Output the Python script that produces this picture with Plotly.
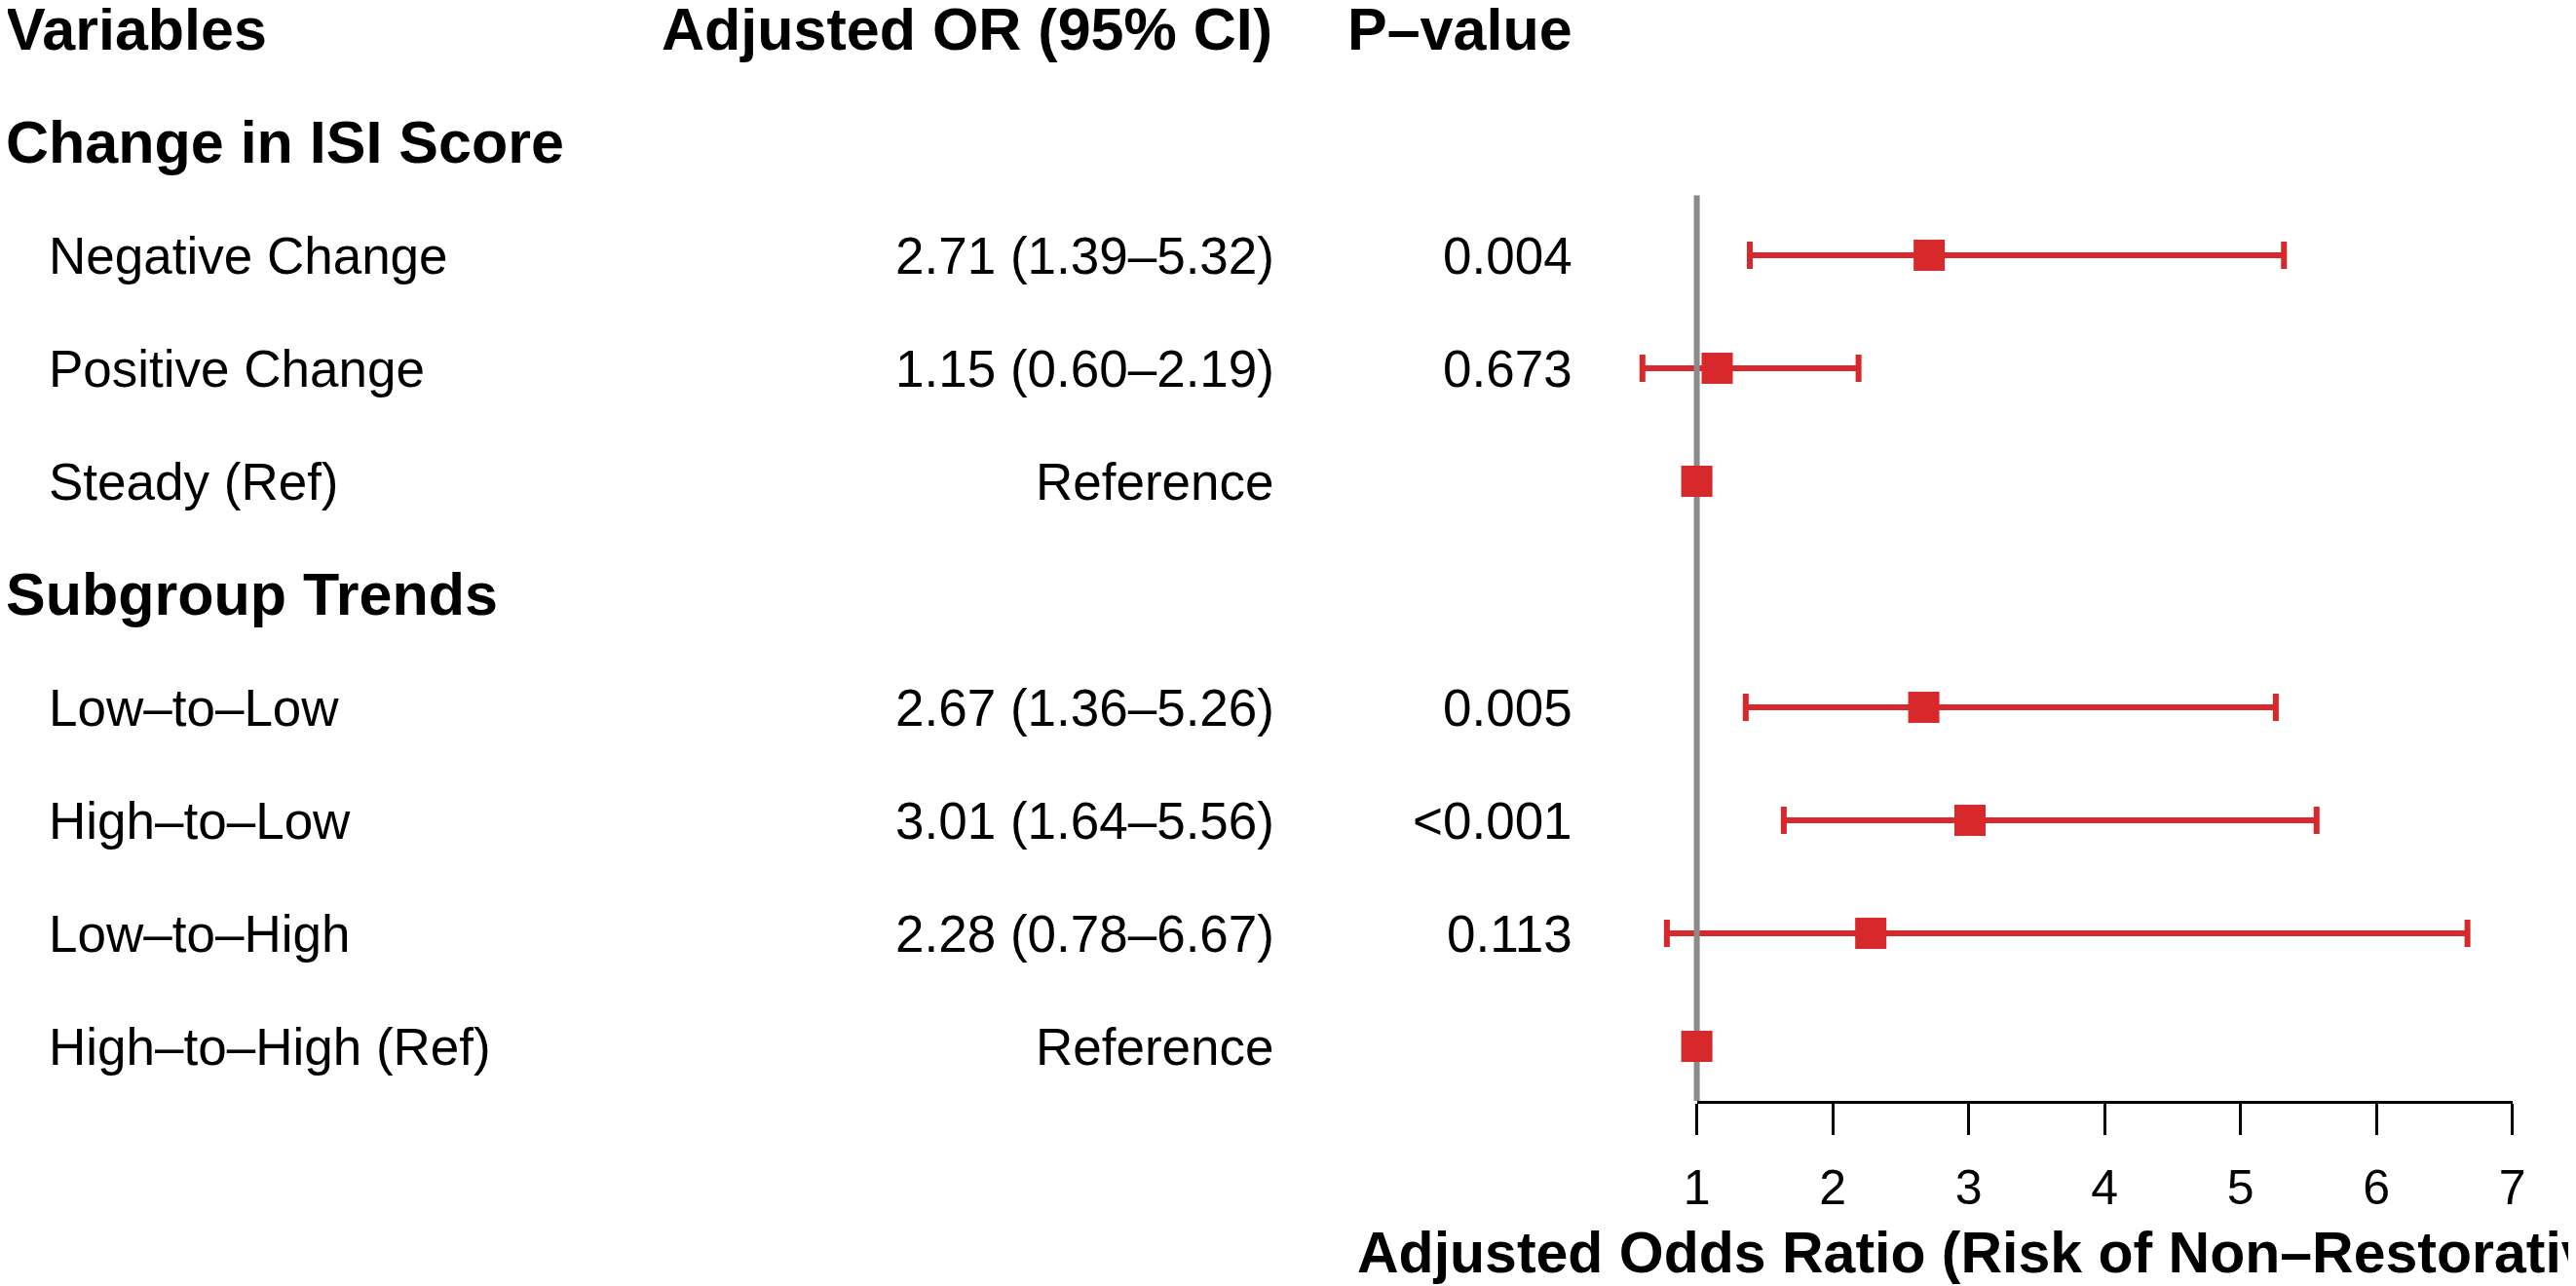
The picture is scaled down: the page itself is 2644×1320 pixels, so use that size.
import plotly.graph_objects as go

# forest plot data
groups = ["Change in ISI Score", "Subgroup Trends"]
labels = ["Negative Change", "Positive Change", "Steady (Ref)",
          "Low–to–Low", "High–to–Low", "Low–to–High", "High–to–High (Ref)"]
group_of = [0, 0, 0, 1, 1, 1, 1]
or_est = [2.71, 1.15, 1.00, 2.67, 3.01, 2.28, 1.00]
ci_low = [1.39, 0.60, None, 1.36, 1.64, 0.78, None]
ci_high = [5.32, 2.19, None, 5.26, 5.56, 6.67, None]
or_text = ["2.71 (1.39–5.32)", "1.15 (0.60–2.19)", "Reference",
           "2.67 (1.36–5.26)", "3.01 (1.64–5.56)", "2.28 (0.78–6.67)", "Reference"]
p_text = ["0.004", "0.673", "", "0.005", "<0.001", "0.113", ""]
headers = ["Variables", "Adjusted OR (95% CI)", "P–value"]
x_ticks = [1, 2, 3, 4, 5, 6, 7]
x_title = "Adjusted Odds Ratio (Risk of Non–Restorative Sleep)"

W, H = 2644, 1320
RED = "#D7282B"
GREY = "#8A8A8A"
FONT = "Liberation Sans"

# row index for every line of the table (0 = column headers)
group_rows = []
item_rows = []
r = 0
last_group = None
for g in group_of:
    if g != last_group:
        r += 1
        group_rows.append(r)
        last_group = g
    r += 1
    item_rows.append(r)

# pixel geometry of the reference; the page shifts the figure 8px down
dy = 8
px_one, px_seven = 1738, 2584
row0_px, row_step, axis_px = 30 - dy, 116, 1130 - dy
unit = (px_seven - px_one) / (x_ticks[-1] - x_ticks[0])
x_lo = x_ticks[0] - px_one / unit
x_hi = x_ticks[0] + (W - px_one) / unit
y_bottom = (axis_px - row0_px) / row_step
y_top = -row0_px / row_step

fig = go.Figure()

# confidence intervals
ci_idx = [i for i in range(len(labels)) if ci_low[i] is not None]
fig.add_trace(go.Scatter(
    x=[or_est[i] for i in ci_idx],
    y=[item_rows[i] for i in ci_idx],
    mode="markers",
    marker=dict(size=2, opacity=0),
    error_x=dict(type="data", symmetric=False,
                 array=[ci_high[i] - or_est[i] for i in ci_idx],
                 arrayminus=[or_est[i] - ci_low[i] for i in ci_idx],
                 color=RED, thickness=6, width=14),
    hoverinfo="skip", showlegend=False,
))

# line of no effect
fig.add_trace(go.Scatter(
    x=[1, 1], y=[group_rows[0] + 0.47, y_bottom],
    mode="lines", line=dict(color=GREY, width=6),
    hoverinfo="skip", showlegend=False,
))

# point estimates
fig.add_trace(go.Scatter(
    x=or_est, y=item_rows, mode="markers",
    marker=dict(symbol="square", size=32, color=RED),
    showlegend=False,
))

# carrier for the visible x axis
fig.add_trace(go.Scatter(
    x=x_ticks, y=[y_bottom] * len(x_ticks), xaxis="x2", yaxis="y",
    mode="markers", marker=dict(opacity=0), hoverinfo="skip", showlegend=False,
))

ann = []
bold = dict(family=FONT, size=61, color="black")
body = dict(family=FONT, size=53, color="black")

def px(x):
    return x / W

ann.append(dict(text="<b>%s</b>" % headers[0], x=px(-18), xanchor="left", y=0, font=bold))
ann.append(dict(text="<b>%s</b>" % headers[1], x=px(1300), xanchor="right", y=0, font=bold))
ann.append(dict(text="<b>%s</b>" % headers[2], x=px(1611), xanchor="right", y=0, font=bold))
for g, row in zip(groups, group_rows):
    ann.append(dict(text="<b>%s</b>" % g, x=px(-18), xanchor="left", y=row, font=bold))
for i, row in enumerate(item_rows):
    ann.append(dict(text=labels[i], x=px(26), xanchor="left", y=row, font=body))
    ann.append(dict(text=or_text[i], x=px(1302), xanchor="right", y=row, font=body))
    if p_text[i]:
        ann.append(dict(text=p_text[i], x=px(1611), xanchor="right", y=row, font=body))
for a in ann:
    a.update(xref="paper", yref="y", yanchor="middle", showarrow=False)

ann.append(dict(text="<b>%s</b>" % x_title, xref="x2", x=3.86, xanchor="center",
                yref="paper", y=(H - (1286 - dy)) / H, yanchor="middle",
                showarrow=False, font=dict(family=FONT, size=59, color="black")))

fig.update_layout(
    width=W, height=H,
    margin=dict(l=0, r=0, t=0, b=0),
    paper_bgcolor="white", plot_bgcolor="rgba(0,0,0,0)",
    font=dict(family=FONT, color="black"),
    annotations=ann,
    xaxis=dict(domain=[0, 1], range=[x_lo, x_hi], visible=False),
    yaxis=dict(domain=[(H - axis_px) / H, 1], range=[y_bottom, y_top], visible=False),
    xaxis2=dict(domain=[px_one / W, px_seven / W], range=[x_ticks[0], x_ticks[-1]],
                anchor="y", side="bottom",
                showline=True, linecolor="black", linewidth=3,
                ticks="outside", ticklen=32, tickwidth=3, tickcolor="black",
                tickvals=x_ticks, tickfont=dict(family=FONT, size=50, color="black"),
                ticklabelstandoff=11,
                showgrid=False, zeroline=False),
)

fig.write_html("out.html")
